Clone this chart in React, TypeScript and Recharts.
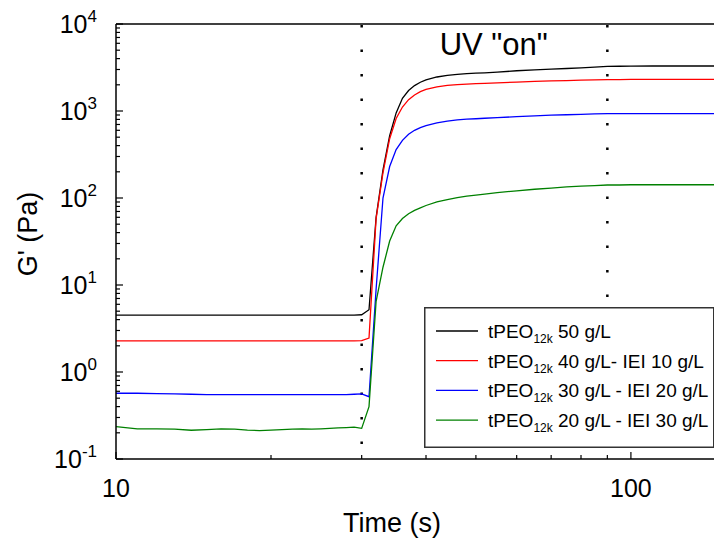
import { LineChart, Line, XAxis, YAxis, ReferenceLine, Legend } from 'recharts';

const FONT = '"Liberation Sans", Arial, sans-serif';

// time (s), shared by all four runs
const times = [
  10, 11, 12, 13, 14, 15, 16, 17, 18, 19, 20, 21, 22, 23, 24, 25, 26, 27, 28, 29, 30,
  31, 32, 33, 34, 35, 36, 37, 38, 39, 40,
  42, 44, 46, 48, 50, 52,
  55, 60, 65, 70, 75, 80, 85, 90, 95, 100,
  110, 120, 130, 145,
];

// G' (Pa)
const peo50 = [
  4.5, 4.5, 4.5, 4.5, 4.5, 4.5, 4.5, 4.5, 4.5, 4.5, 4.5, 4.5, 4.5, 4.5, 4.5, 4.5, 4.5, 4.5, 4.5, 4.5, 4.55,
  5.2, 60, 210, 520, 950, 1400, 1720, 1960, 2140, 2280,
  2460, 2570, 2640, 2690, 2720, 2750,
  2800, 2900, 2970, 3030, 3080, 3130, 3200, 3260, 3270, 3280,
  3290, 3290, 3290, 3290,
];
const peo40iei10 = [
  2.28, 2.28, 2.28, 2.28, 2.28, 2.28, 2.28, 2.28, 2.28, 2.28, 2.28, 2.28, 2.28, 2.28, 2.28, 2.28, 2.28, 2.28, 2.28, 2.28, 2.3,
  2.45, 58, 195, 480, 820, 1110, 1350, 1530, 1670, 1770,
  1890, 1965, 2010, 2040, 2060, 2080,
  2110, 2150, 2190, 2220, 2240, 2260, 2285, 2300, 2300, 2305,
  2310, 2310, 2310, 2310,
];
const peo30iei20 = [
  0.57, 0.57, 0.565, 0.56, 0.555, 0.55, 0.55, 0.55, 0.55, 0.55, 0.55, 0.55, 0.55, 0.55, 0.55, 0.55, 0.55, 0.55, 0.55, 0.555, 0.56,
  0.52, 9, 100, 230, 360, 460, 540, 600, 645, 680,
  730, 765, 790, 805, 815, 825,
  840, 860, 880, 895, 905, 915, 925, 935, 935, 935,
  935, 935, 935, 935,
];
const peo20iei30 = [
  0.235, 0.222, 0.222, 0.22, 0.214, 0.218, 0.222, 0.22, 0.215, 0.212, 0.215, 0.218, 0.22, 0.222, 0.22, 0.222, 0.225, 0.228, 0.23, 0.232, 0.225,
  0.4, 6.5, 16, 32, 48, 58, 66, 72, 77, 82,
  90, 96, 101, 105, 108, 111,
  115, 121, 126, 130, 134, 137, 139, 141, 141, 142,
  142, 142, 142, 142,
];

const series = [
  { key: 'peo50', color: '#000000', conc: '50 g/L' },
  { key: 'peo40iei10', color: '#ff0000', conc: '40 g/L- IEI 10 g/L' },
  { key: 'peo30iei20', color: '#0000ff', conc: '30 g/L - IEI 20 g/L' },
  { key: 'peo20iei30', color: '#008000', conc: '20 g/L - IEI 30 g/L' },
];

const xTicks = [10, 20, 30, 40, 50, 60, 70, 80, 90, 100];
const yMajor = [0.1, 1, 10, 100, 1000, 10000];
const yTicks = yMajor.flatMap((m) => (m === 10000 ? [m] : [1, 2, 3, 4, 5, 6, 7, 8, 9].map((k) => k * m)));

const uvOn = 30; // UV switched on
const uvMark = 90;

const data = times.map((t, i) => ({
  t,
  peo50: peo50[i],
  peo40iei10: peo40iei10[i],
  peo30iei20: peo30iei20[i],
  peo20iei30: peo20iei30[i],
}));

const isMajor = (v: number) => Math.abs(Math.log10(v) - Math.round(Math.log10(v))) < 1e-6;

function XTick(props: any) {
  const { x, y, payload } = props;
  const major = isMajor(payload.value);
  return (
    <g>
      <line x1={x} x2={x} y1={y} y2={y - (major ? 7 : 4)} stroke="#000" strokeWidth={1.2} />
      {major && (
        <text x={x} y={y + 38} textAnchor="middle" fontSize={25} fontFamily={FONT} fill="#000">
          {payload.value}
        </text>
      )}
    </g>
  );
}

function YTick(props: any) {
  const { x, y, payload } = props;
  const major = isMajor(payload.value);
  const exp = Math.round(Math.log10(payload.value));
  return (
    <g>
      <line x1={x} x2={x + (major ? 7 : 4)} y1={y} y2={y} stroke="#000" strokeWidth={1.2} />
      {major && (
        <text x={x - 19} y={y + 9} textAnchor="end" fontSize={25} fontFamily={FONT} fill="#000">
          10
          <tspan fontSize={17} dy={-11}>
            {exp}
          </tspan>
        </text>
      )}
    </g>
  );
}

function LegendBox() {
  return (
    <svg width={292} height={142} style={{ display: 'block' }}>
      <rect x={0.75} y={0.75} width={289} height={139.5} fill="#fff" stroke="#333" strokeWidth={1.5} />
      {series.map((s, i) => {
        const cy = 24 + i * 29.7;
        return (
          <g key={s.key}>
            <line x1={12} x2={54} y1={cy} y2={cy} stroke={s.color} strokeWidth={1.3} />
            <text x={64} y={cy + 7} fontSize={19} fontFamily={FONT} fill="#000">
              tPEO
              <tspan fontSize={12} dy={5}>12k</tspan>
              <tspan dy={-5}>{' ' + s.conc}</tspan>
            </text>
          </g>
        );
      })}
    </svg>
  );
}

export default function App() {
  return (
    <div style={{ position: 'absolute', left: 0, top: 0, width: 714, height: 540 }}>
      <LineChart width={714} height={540} data={data} margin={{ top: 24, right: 0, bottom: 0, left: 0 }}>
        <XAxis
          dataKey="t"
          type="number"
          scale="log"
          domain={[10, 145]}
          allowDataOverflow
          ticks={xTicks}
          interval={0}
          height={81}
          tickSize={0}
          tickMargin={0}
          tickLine={false}
          axisLine={{ stroke: '#000', strokeWidth: 1.5 }}
          tick={(p: any) => <XTick {...p} />}
          label={() => (
            <text x={392} y={532} textAnchor="middle" fontSize={27} fontFamily={FONT} fill="#000">
              Time (s)
            </text>
          )}
        />
        <YAxis
          type="number"
          scale="log"
          domain={[0.1, 10000]}
          allowDataOverflow
          ticks={yTicks}
          interval={0}
          width={116}
          tickSize={0}
          tickMargin={0}
          tickLine={false}
          axisLine={{ stroke: '#000', strokeWidth: 1.5 }}
          tick={(p: any) => <YTick {...p} />}
          label={() => (
            <text
              x={28}
              y={234}
              transform="rotate(-90, 28, 234)"
              textAnchor="middle"
              dominantBaseline="central"
              fontSize={27}
              fontFamily={FONT}
              fill="#000"
            >
              G' (Pa)
            </text>
          )}
        />
        <ReferenceLine y={10000} stroke="#000" strokeWidth={1.5} ifOverflow="visible" />
        <ReferenceLine
          x={uvOn}
          stroke="#000"
          strokeWidth={2.5}
          strokeDasharray="2.5 22"
          strokeDashoffset={9.5}
          ifOverflow="visible"
          label={(p: any) => (
            <text
              x={(p?.viewBox?.x ?? 362) + 78}
              y={55}
              fontSize={31}
              fontFamily={FONT}
              fill="#000"
            >
              UV "on"
            </text>
          )}
        />
        <ReferenceLine
          x={uvMark}
          stroke="#000"
          strokeWidth={2.5}
          strokeDasharray="2.5 22"
          strokeDashoffset={9.5}
          ifOverflow="visible"
        />
        {series.map((s) => (
          <Line
            key={s.key}
            type="linear"
            dataKey={s.key}
            stroke={s.color}
            strokeWidth={1.3}
            dot={false}
            activeDot={false}
            isAnimationActive={false}
          />
        ))}
        <Legend
          layout="horizontal"
          verticalAlign="middle"
          align="center"
          wrapperStyle={{ position: 'absolute', left: 424, top: 307, width: 292, height: 142 }}
          content={() => <LegendBox />}
        />
      </LineChart>
    </div>
  );
}
